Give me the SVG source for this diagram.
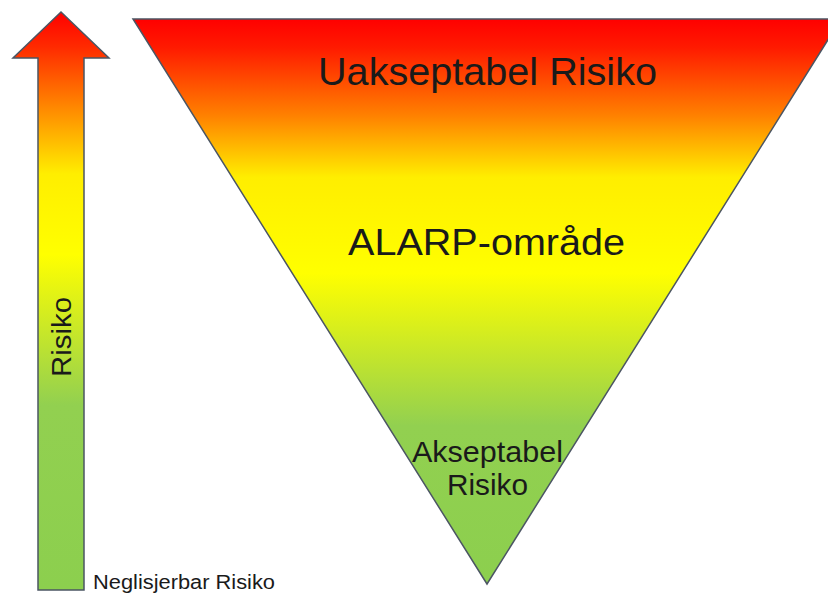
<svg xmlns="http://www.w3.org/2000/svg" width="828" height="595" viewBox="0 0 828 595">
<defs>
<linearGradient id="gTri" gradientUnits="userSpaceOnUse" x1="0" y1="19" x2="0" y2="584">
<stop offset="0" stop-color="#ff0000"/>
<stop offset="0.05" stop-color="#ff1a00"/>
<stop offset="0.17" stop-color="#ff8000"/>
<stop offset="0.28" stop-color="#ffee00"/>
<stop offset="0.45" stop-color="#ffff00"/>
<stop offset="0.72" stop-color="#92d050"/>
<stop offset="1" stop-color="#8ccf4e"/>
</linearGradient>
<linearGradient id="gArr" gradientUnits="userSpaceOnUse" x1="0" y1="12" x2="0" y2="590">
<stop offset="0" stop-color="#ff0000"/>
<stop offset="0.06" stop-color="#ff2a00"/>
<stop offset="0.17" stop-color="#ff8c00"/>
<stop offset="0.28" stop-color="#ffee00"/>
<stop offset="0.42" stop-color="#ffff00"/>
<stop offset="0.68" stop-color="#92d050"/>
<stop offset="1" stop-color="#8ccf4e"/>
</linearGradient>
</defs>
<style>
.shape{stroke:#4b5563;stroke-width:1.5;stroke-linejoin:miter}
.lbl{font-family:"Liberation Sans",Arial,sans-serif;fill:#1a1a1a;text-anchor:middle}
</style>
<rect width="828" height="595" fill="#ffffff"/>
<g id="risk-arrow">
<polygon class="shape" fill="url(#gArr)" points="61,12 109,58 84,58 84,590 38,590 38,58 13,58"/>
<text class="lbl" font-size="28" transform="translate(71,337) rotate(-90)" textLength="80" lengthAdjust="spacingAndGlyphs">Risiko</text>
</g>
<g id="negligible-label">
<text font-family="'Liberation Sans',Arial,sans-serif" fill="#1a1a1a" font-size="20" x="93" y="589" textLength="182" lengthAdjust="spacingAndGlyphs">Neglisjerbar Risiko</text>
</g>
<g id="risk-triangle">
<polygon class="shape" fill="url(#gTri)" points="133,19 841,19 487,584"/>
<text class="lbl" font-size="39" x="487.5" y="85" textLength="339" lengthAdjust="spacingAndGlyphs">Uakseptabel Risiko</text>
<text class="lbl" font-size="37" x="486.5" y="255" textLength="277" lengthAdjust="spacingAndGlyphs">ALARP-område</text>
<text class="lbl" font-size="30" x="487.5" y="462" textLength="151" lengthAdjust="spacingAndGlyphs">Akseptabel</text>
<text class="lbl" font-size="30" x="487.5" y="495" textLength="81" lengthAdjust="spacingAndGlyphs">Risiko</text>
</g>
<g id="connectors"/>
</svg>
